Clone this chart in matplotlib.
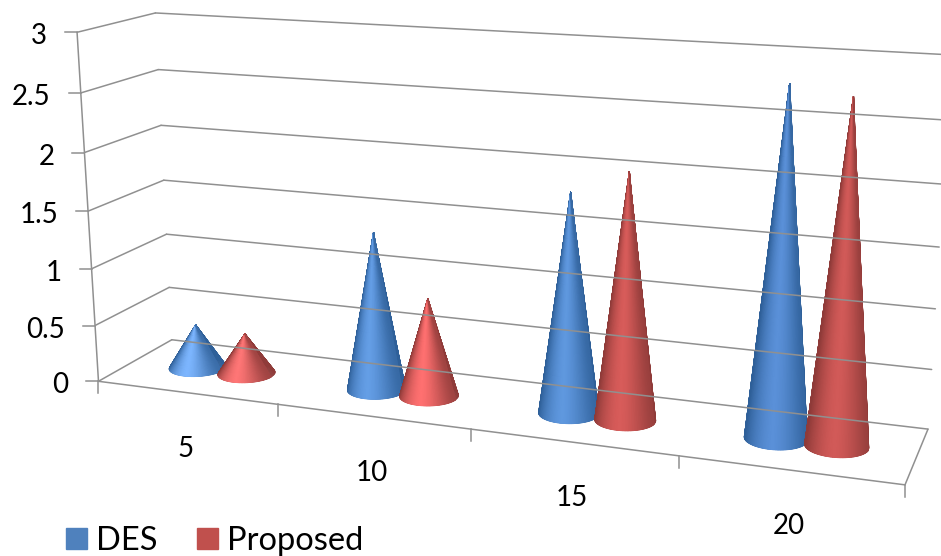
import matplotlib
matplotlib.use("Agg")
import matplotlib.pyplot as plt
from matplotlib.collections import PolyCollection
from matplotlib.colors import LinearSegmentedColormap
from matplotlib.patches import Patch
import numpy as np

plt.rcParams['font.family'] = ['Lato', 'DejaVu Sans']

categories = ['5', '10', '15', '20']
des = [0.39, 1.37, 1.85, 2.82]
proposed = [0.36, 0.85, 2.05, 2.75]
value_ticks = [0, 0.5, 1, 1.5, 2, 2.5, 3]
value_labels = ['0', '0.5', '1', '1.5', '2', '2.5', '3']

# (along, depth, value) -> pixel, fitted on the corners of the box
box_3d = [(0, 0, 0), (1, 0, 0), (0, 1, 0), (1, 1, 0), (0, 0, 3), (0, 1, 3),
          (1, 1, 3), (0, 1, 1.5), (0, 0, 2), (1, 1, 2)]
box_px = [(98, 381), (905, 485), (172, 340), (928, 429), (77, 32), (155, 13),
          (951, 55), (164, 180), (85, 153), (943, 184)]


def fitCamera():
    rows = []
    rhs = []
    for (a, b, c), (px, py) in zip(box_3d, box_px):
        rows.append([a, b, c, 1, 0, 0, 0, 0, -a*px, -b*px, -c*px])
        rows.append([0, 0, 0, 0, a, b, c, 1, -a*py, -b*py, -c*py])
        rhs += [px, py]
    m = np.linalg.lstsq(np.array(rows, float), np.array(rhs, float), rcond=None)[0]
    return np.append(m, 1).reshape(3, 4)


camera = fitCamera()


def project(a, b, c):
    a, b, c = np.broadcast_arrays(a, b, c)
    p = camera @ np.array([a, b, c, np.ones_like(a)], dtype=float)
    return p[0]/p[2], p[1]/p[2]


def drawLine(ax, start, end):
    x, y = project(*zip(start, end))
    ax.plot(x, y, color='#909090', lw=1.1, solid_capstyle='round')


def drawCone(ax, a, value, edge, mid):
    radiusA = 0.036
    radiusB = 0.2
    depth = 0.5
    theta = np.linspace(0, 2*np.pi, 121)
    bx, by = project(a + radiusA*np.cos(theta), depth + radiusB*np.sin(theta), 0)
    tx, ty = project(a, depth, value)

    # plain silhouette first, it gives the smooth outline
    polys = [[(tx, ty), (bx[i], by[i]), (bx[i+1], by[i+1])] for i in range(120)]
    ax.add_collection(PolyCollection(polys, facecolors=edge, edgecolors=edge, linewidths=0.3))

    # shading of the front half on top, running from the base up to the tip
    front = np.linspace(np.pi*1.02, np.pi*1.98, 61)
    fx, fy = project(a + radiusA*np.cos(front), depth + radiusB*np.sin(front), 0)
    steps = np.linspace(0, 1, 6)[:, None]
    meshX = fx + (tx - fx)*steps
    meshY = fy + (ty - fy)*steps
    shade = 1 - np.abs(np.cos(front) - 0.1)**1.6
    shade = np.clip(np.tile(shade, (6, 1)), 0, 1)
    cmap = LinearSegmentedColormap.from_list('cone', [edge, mid])
    ax.pcolormesh(meshX, meshY, shade, shading='gouraud', cmap=cmap, vmin=0, vmax=1)


fig = plt.figure(figsize=(9.41, 5.56), dpi=100)
ax = fig.add_axes([0, 0, 1, 1])
ax.set_xlim(0, 941)
ax.set_ylim(556, 0)
ax.axis('off')

# walls and floor
for v in value_ticks:
    drawLine(ax, (0, 0, v), (0, 1, v))
    drawLine(ax, (0, 1, v), (1, 1, v))
drawLine(ax, (0, 0, 0), (0, 0, 3))
drawLine(ax, (0, 0, 0), (1, 0, 0))
drawLine(ax, (1, 0, 0), (1, 1, 0))

for v, label in zip(value_ticks, value_labels):
    x, y = project(0, 0, v)
    ax.plot([x - 12, x], [y, y], color='#909090', lw=1.1)
    ax.text(x - 30, y + 4, label, ha='right', va='center', fontsize=20, color='#000000')

for i in range(5):
    x, y = project(i/4, 0, 0)
    ax.plot([x, x], [y, y + 12], color='#909090', lw=1.1)

for i, label in enumerate(categories):
    x, y = project((i + 0.5)/4, 0, 0)
    ax.text(x - 1, y + 56, label, ha='center', va='center', fontsize=20, color='#000000')

# brighter highlight on the short cones, as in the original
blue_mid = ['#7db6ff', '#649ee6', '#5f98df', '#5a90d8']
red_mid = ['#ff7676', '#ff7070', '#d85c5a', '#d25a58']
for i in range(len(categories)):
    centre = (i + 0.5)/4
    drawCone(ax, centre - 0.035, des[i], '#2f6099', blue_mid[i])
    drawCone(ax, centre + 0.035, proposed[i], '#8f3b39', red_mid[i])

handles = [Patch(color='#4f81bd', label='DES'), Patch(color='#c0504d', label='Proposed')]
ax.legend(handles=handles, loc='lower left', bbox_to_anchor=(66/941, 0), ncol=2, frameon=False,
          fontsize=23.5, handlelength=0.63, handleheight=0.63, handletextpad=0.3,
          columnspacing=1.2, borderpad=0, borderaxespad=0)

fig.savefig('out.png', dpi=100)
